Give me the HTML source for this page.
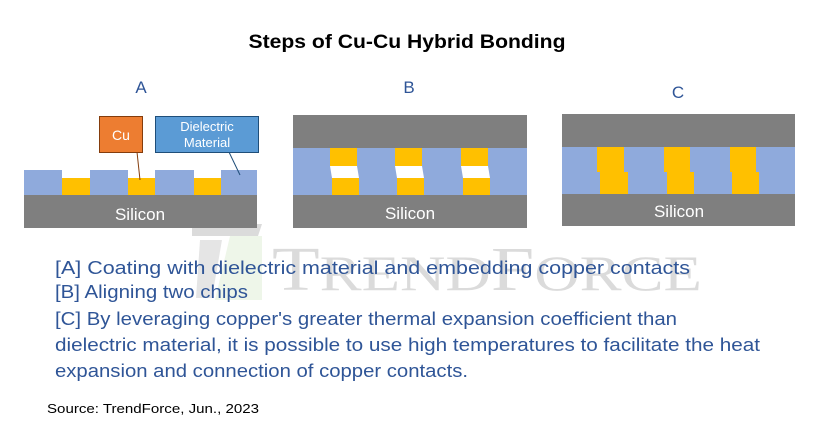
<!DOCTYPE html>
<html><head><meta charset="utf-8"><style>
html,body{margin:0;padding:0;background:#fff;}
svg{display:block;}
</style></head><body>
<svg width="819" height="429" viewBox="0 0 819 429" xmlns="http://www.w3.org/2000/svg" font-family="Liberation Sans, sans-serif">
<rect width="819" height="429" fill="#fff"/>
<text x="407" y="48" text-anchor="middle" font-weight="bold" font-size="19" textLength="317" lengthAdjust="spacingAndGlyphs">Steps of Cu-Cu Hybrid Bonding</text>
<text x="141" y="93" text-anchor="middle" font-size="17" fill="#2F5597">A</text>
<text x="409" y="93" text-anchor="middle" font-size="17" fill="#2F5597">B</text>
<text x="678" y="98" text-anchor="middle" font-size="17" fill="#2F5597">C</text>

<!-- Panel A -->
<rect x="24" y="195" width="233" height="33" fill="#7F7F7F"/>
<rect x="24" y="170" width="233" height="25" fill="#8FAADC"/>
<rect x="62" y="178" width="28" height="17" fill="#FFC000"/>
<rect x="128" y="178" width="27" height="17" fill="#FFC000"/>
<rect x="194" y="178" width="27" height="17" fill="#FFC000"/>
<rect x="62" y="170" width="28" height="8" fill="#fff"/>
<rect x="128" y="170" width="27" height="8" fill="#fff"/>
<rect x="194" y="170" width="27" height="8" fill="#fff"/>
<text x="140" y="220" text-anchor="middle" font-size="17" fill="#fff">Silicon</text>
<line x1="137" y1="152" x2="140" y2="180" stroke="#843C0C" stroke-width="1"/>
<line x1="228" y1="150" x2="240" y2="175" stroke="#1F4E79" stroke-width="1"/>
<rect x="99.5" y="116.5" width="43" height="36" fill="#ED7D31" stroke="#843C0C"/>
<text x="121" y="140" text-anchor="middle" font-size="14" fill="#fff">Cu</text>
<rect x="155.5" y="116.5" width="103" height="36" fill="#5B9BD5" stroke="#1F4E79"/>
<text x="207" y="131" text-anchor="middle" font-size="13" fill="#fff">Dielectric</text>
<text x="207" y="147" text-anchor="middle" font-size="13" fill="#fff">Material</text>

<!-- Panel B -->
<rect x="293" y="115" width="234" height="33" fill="#7F7F7F"/>
<rect x="293" y="148" width="234" height="47" fill="#8FAADC"/>
<rect x="293" y="195" width="234" height="33" fill="#7F7F7F"/>
<g fill="#FFC000">
<rect x="330" y="148" width="27" height="18"/><rect x="332" y="178" width="27" height="17"/>
<rect x="395" y="148" width="27" height="18"/><rect x="397" y="178" width="27" height="17"/>
<rect x="461" y="148" width="27" height="18"/><rect x="463" y="178" width="27" height="17"/>
</g>
<g fill="#fff">
<polygon points="330,166 357,166 359,178 332,178"/>
<polygon points="395,166 422,166 424,178 397,178"/>
<polygon points="461,166 488,166 490,178 463,178"/>
</g>
<text x="410" y="219" text-anchor="middle" font-size="17" fill="#fff">Silicon</text>

<!-- Panel C -->
<rect x="562" y="114" width="233" height="33" fill="#7F7F7F"/>
<rect x="562" y="147" width="233" height="47" fill="#8FAADC"/>
<rect x="562" y="194" width="233" height="32" fill="#7F7F7F"/>
<g fill="#FFC000">
<rect x="597" y="147" width="27" height="25"/><rect x="600" y="172" width="28" height="22"/>
<rect x="664" y="147" width="26" height="25"/><rect x="667" y="172" width="27" height="22"/>
<rect x="730" y="147" width="26" height="25"/><rect x="732" y="172" width="27" height="22"/>
</g>
<text x="679" y="217" text-anchor="middle" font-size="17" fill="#fff">Silicon</text>

<!-- watermark -->
<g opacity="0.28">
<polygon points="192,224 262,224 258,236 192,236" fill="#7F7F7F"/>
<polygon points="230,236 262,236 262,300 215,300" fill="#C5E0B4"/>
<polygon points="200,240 222,240 212,298 196,298" fill="#A6A6A6"/>
<text x="272" y="290" font-family="Liberation Serif, serif" font-size="62" fill="#7F7F7F" textLength="430" lengthAdjust="spacingAndGlyphs">T<tspan font-size="50">REND</tspan>F<tspan font-size="50">ORCE</tspan></text>
</g>

<g font-size="18" fill="#2F5597">
<text x="55" y="274" textLength="635" lengthAdjust="spacingAndGlyphs">[A] Coating with dielectric material and embedding copper contacts</text>
<text x="55" y="298" textLength="193" lengthAdjust="spacingAndGlyphs">[B] Aligning two chips</text>
<text x="55" y="325" textLength="622" lengthAdjust="spacingAndGlyphs">[C] By leveraging copper's greater thermal expansion coefficient than</text>
<text x="55" y="351" textLength="705" lengthAdjust="spacingAndGlyphs">dielectric material, it is possible to use high temperatures to facilitate the heat</text>
<text x="55" y="377" textLength="413" lengthAdjust="spacingAndGlyphs">expansion and connection of copper contacts.</text>
</g>
<text x="47" y="413" font-size="13" fill="#000" textLength="212" lengthAdjust="spacingAndGlyphs">Source: TrendForce, Jun., 2023</text>
</svg>
</body></html>
